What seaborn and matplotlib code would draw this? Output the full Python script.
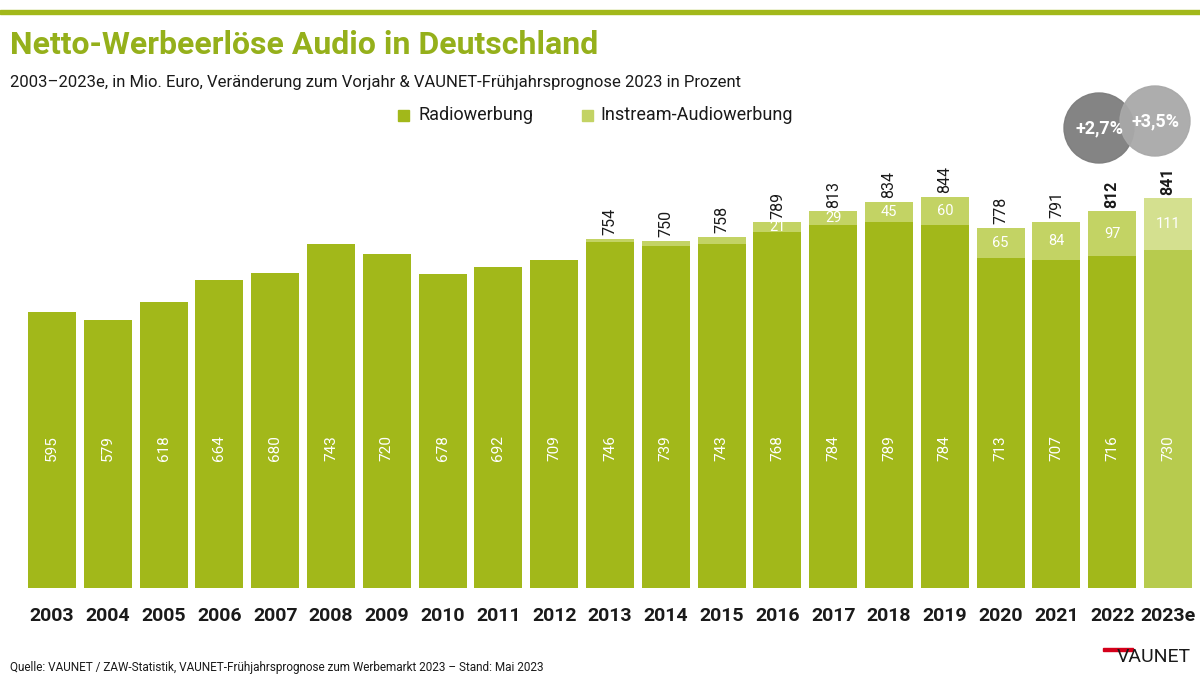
import matplotlib
matplotlib.use("Agg")
import matplotlib.pyplot as plt
import seaborn as sns
import pandas as pd
from matplotlib.patches import Ellipse, Rectangle

years = ["2003","2004","2005","2006","2007","2008","2009","2010","2011","2012","2013",
         "2014","2015","2016","2017","2018","2019","2020","2021","2022","2023e"]
radio = [595,579,618,664,680,743,720,678,692,709,746,739,743,768,784,789,784,713,707,716,730]
instream = [0,0,0,0,0,0,0,0,0,0,8,11,15,21,29,45,60,65,84,97,111]
totals = [None]*10 + [754,750,758,789,813,834,844,778,791,812,841]
growth = ["+2,7%", "+3,5%"]

sns.set_theme(style="white")
plt.rcParams['font.family'] = ['Roboto', 'DejaVu Sans']

fig = plt.figure(figsize=(12, 6.86), dpi=100)
H = 686
ax = fig.add_axes([0, 1-588/H, 1, 488/H])

c_radio = "#a2b81a"; c_in = "#c3d364"
c_radio_e = "#b7cb4e"; c_in_e = "#d4e08f"
rc = [c_radio]*20 + [c_radio_e]
ic = [c_in]*20 + [c_in_e]

df = pd.DataFrame({"year": years, "radio": radio})
sns.barplot(data=df, x="year", y="radio", hue="year", palette=rc, legend=False,
            width=0.86, saturation=1, linewidth=0, ax=ax)
ax.bar(range(len(years)), instream, bottom=radio, width=0.86, color=ic, linewidth=0)

ax.set_xlim(-52/55.8, (1200-52)/55.8)
ax.set_ylim(0, 488/0.4633)
for s in ax.spines.values():
    s.set_visible(False)
ax.set_yticks([])
ax.set_xlabel(""); ax.set_ylabel("")
ax.tick_params(axis='x', length=0, pad=14)
ax.set_xticks(range(len(years)))
ax.set_xticklabels(years, fontsize=14, fontweight="bold", color="#1a1a1a")

for i, v in enumerate(radio):
    ax.text(i, 302, str(v), rotation=90, ha="center", va="center", color="white", fontsize=11)
for i, v in enumerate(instream):
    if v >= 21:
        ax.text(i, radio[i] + v/2, str(v), ha="center", va="center", color="white", fontsize=10.5)
for i, t in enumerate(totals):
    if t:
        ax.text(i, t + 8, str(t), rotation=90, ha="center", va="bottom", color="#1a1a1a",
                fontsize=11.5, fontweight="bold" if i >= 19 else "normal")

fig.patches.append(Rectangle((0, 1-14/H), 1, 4/H, transform=fig.transFigure, color="#a2b81a"))
fig.text(0.008, 1-45/H, "Netto-Werbeerlöse Audio in Deutschland", fontsize=23,
         fontweight="bold", color="#95b01b", va="center")
fig.text(0.008, 1-82/H, "2003–2023e, in Mio. Euro, Veränderung zum Vorjahr & VAUNET-Frühjahrsprognose 2023 in Prozent",
         fontsize=12, color="#1a1a1a", va="center")
fig.patches.append(Rectangle((398/1200, 1-121/H), 11/1200, 11/H, transform=fig.transFigure, color=c_radio))
fig.text(418/1200, 1-115/H, "Radiowerbung", fontsize=13, va="center", color="#1a1a1a")
fig.patches.append(Rectangle((582/1200, 1-121/H), 11/1200, 11/H, transform=fig.transFigure, color=c_in))
fig.text(600/1200, 1-115/H, "Instream-Audiowerbung", fontsize=13, va="center", color="#1a1a1a")

for cx, cy, col, txt in [(1099, 128, "#7d7d7d", growth[0]), (1155, 121, "#a9a9a9", growth[1])]:
    fig.patches.append(Ellipse((cx/1200, 1-cy/H), 70/1200, 70/H, transform=fig.transFigure,
                               color=col, alpha=0.95))
    fig.text(cx/1200, 1-cy/H, txt, ha="center", va="center", color="white", fontsize=13,
             fontweight="bold")

fig.text(0.008, 1-667/H, "Quelle: VAUNET / ZAW-Statistik, VAUNET-Frühjahrsprognose zum Werbemarkt 2023 – Stand: Mai 2023",
         fontsize=8.5, color="#1a1a1a", va="center")
fig.text(0.992, 1-657/H, "VAUNET", fontsize=14, color="#1a1a1a", ha="right", va="center")
fig.patches.append(Rectangle((1103/1200, 1-651/H), 30/1200, 3/H, transform=fig.transFigure, color="#d4001a"))

fig.savefig("out.png", dpi=100)
